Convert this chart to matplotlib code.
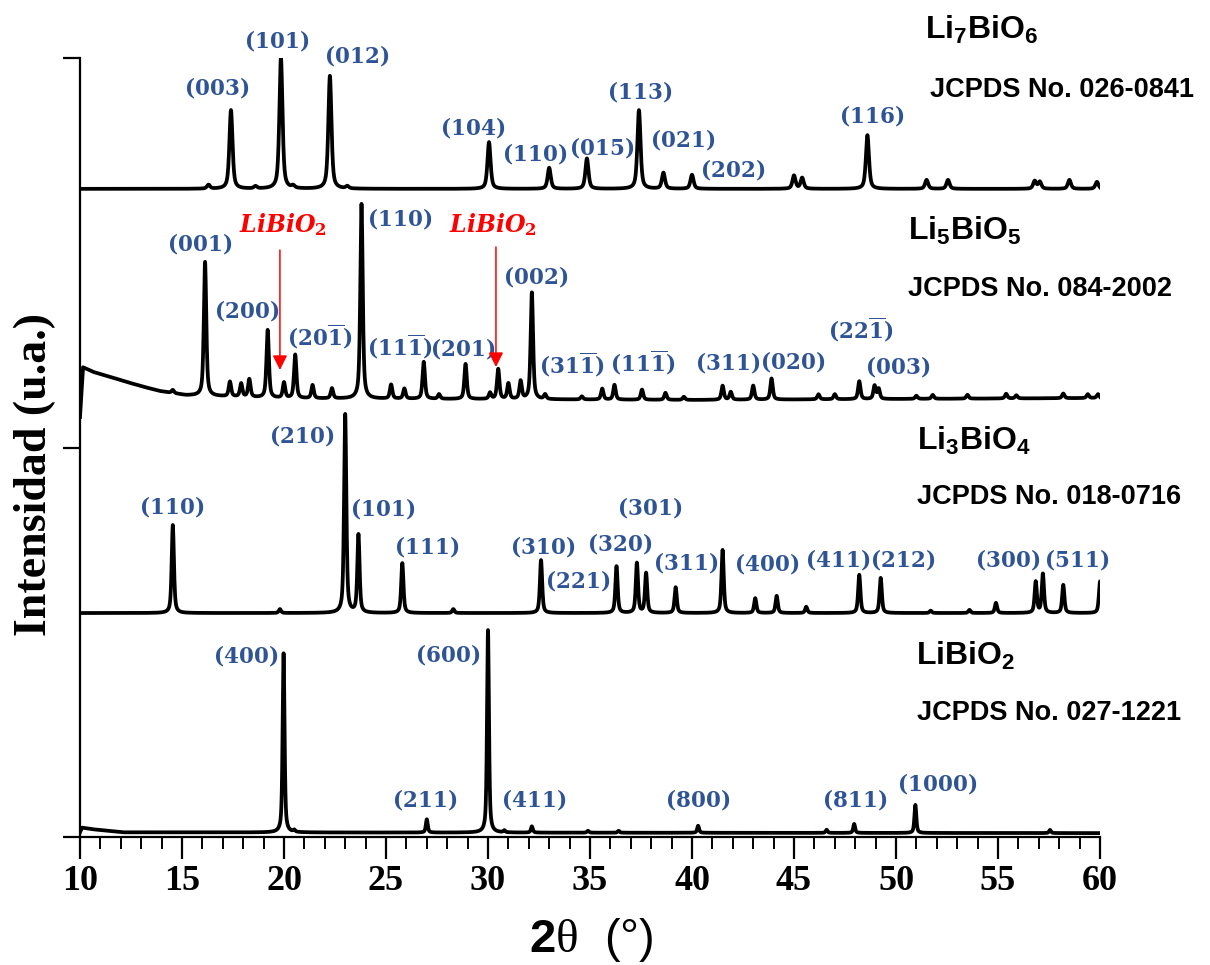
import numpy as np
import matplotlib
matplotlib.use("Agg")
import matplotlib.pyplot as plt
from matplotlib.ticker import MultipleLocator

# ---------------- data ----------------
x_ticks = [10, 15, 20, 25, 30, 35, 40, 45, 50, 55, 60]

# Li7BiO6
li7_base = 83.2
li7_pos = [16.3, 17.4, 18.6, 19.85, 20.45, 22.25, 23.1, 30.05, 33.0, 34.85, 37.4, 38.6, 40.0,
           45.0, 45.4, 48.6, 51.5, 52.55, 56.8, 57.05, 58.5, 59.85]
li7_height = [0.5, 10.1, 0.3, 16.8, 0.3, 14.5, 0.3, 6.0, 2.7, 3.9, 10.1, 2.05, 1.8,
              1.7, 1.4, 6.9, 1.15, 1.15, 1.0, 0.9, 1.15, 0.9]

# Li5BiO5
li5_bg_x = [10.0, 10.15, 10.65, 11.5, 12.3, 13.1, 13.9, 15.2, 20.0, 40.0, 60.0]
li5_bg_y = [53.9, 60.3, 59.7, 59.05, 58.4, 57.8, 57.25, 56.7, 56.3, 56.1, 56.35]
li5_pos = [14.55, 16.13, 17.35, 17.9, 18.3, 19.2, 20.0, 20.55, 21.4, 22.35, 23.8, 25.25, 25.9,
           26.85, 27.6, 28.9, 30.1, 30.5, 31.0, 31.6, 32.15, 32.8, 34.6, 35.6, 36.2, 37.55,
           38.7, 39.6, 41.5, 41.9, 43.0, 43.9, 46.2, 47.0, 48.2, 48.95, 49.15, 51.0, 51.8,
           53.5, 55.4, 55.9, 58.2, 59.4, 59.9]
li5_height = [0.4, 17.2, 1.9, 1.7, 2.3, 8.7, 2.0, 5.6, 1.7, 1.3, 25.0, 1.8, 1.3,
              4.75, 0.6, 4.5, 0.8, 3.85, 2.0, 2.3, 13.7, 0.6, 0.4, 1.4, 1.9, 1.3,
              0.9, 0.4, 1.8, 1.0, 1.8, 2.7, 0.65, 0.65, 2.3, 1.7, 1.3, 0.4, 0.5,
              0.5, 0.6, 0.4, 0.6, 0.5, 0.5]

# Li3BiO4
li3_base = 28.75
li3_pos = [14.55, 19.8, 23.0, 23.65, 25.8, 28.3, 32.6, 36.3, 37.3, 37.75, 39.2, 41.5, 43.1,
           44.15, 45.6, 48.2, 49.25, 51.7, 53.6, 54.9, 56.85, 57.2, 58.2, 60.0]
li3_height = [11.3, 0.5, 25.5, 10.0, 6.4, 0.5, 6.8, 6.0, 6.4, 5.1, 3.3, 8.1, 1.9,
              2.2, 0.8, 4.9, 4.5, 0.3, 0.4, 1.3, 4.0, 5.0, 3.6, 4.0]

# LiBiO2
libi_bg_x = [10.0, 10.1, 10.6, 12.1, 60.0]
libi_bg_y = [0.6, 1.2, 1.0, 0.6, 0.5]
libi_pos = [19.98, 20.5, 27.0, 30.0, 30.8, 32.15, 34.9, 36.4, 40.3, 46.6, 47.95, 50.95, 57.55]
libi_height = [23.0, 0.25, 1.7, 26.0, 0.25, 0.8, 0.25, 0.25, 0.9, 0.4, 1.15, 3.6, 0.4]

# Miller-index labels: (text, 2theta, y)
li7_labels = [("(003)", 16.72, 96.15), ("(101)", 19.66, 102.3), ("(012)", 23.58, 100.26),
              ("(104)", 29.26, 91.14), ("(110)", 32.30, 87.8), ("(015)", 35.59, 88.45),
              ("(113)", 37.45, 95.76), ("(021)", 39.56, 89.6), ("(202)", 42.01, 85.75),
              ("(116)", 48.82, 92.68)]
li5_labels = [("(001)", 15.88, 76.25), ("(200)", 18.19, 67.65), (r"(20\overline{1})", 21.76, 64.18),
              ("(110)", 25.69, 79.46), (r"(11\overline{1})", 25.69, 62.9), ("(201)", 28.77, 62.77),
              ("(002)", 32.35, 71.89), (r"(31\overline{1})", 34.12, 60.6),
              (r"(11\overline{1})", 37.6, 60.85), ("(311)", 41.76, 60.85), ("(020)", 44.95, 60.98),
              (r"(22\overline{1})", 48.24, 65.08), ("(003)", 50.1, 60.46)]
li3_labels = [("(110)", 14.51, 42.49), ("(210)", 20.88, 51.6), ("(101)", 24.85, 42.23),
              ("(111)", 27.01, 37.23), ("(310)", 32.7, 37.23), ("(221)", 34.41, 32.99),
              ("(320)", 36.47, 37.74), ("(301)", 37.94, 42.36), ("(311)", 39.71, 35.3),
              ("(400)", 43.68, 35.17), ("(411)", 47.16, 35.56), ("(212)", 50.34, 35.56),
              ("(300)", 55.49, 35.56), ("(511)", 58.87, 35.56)]
libi_labels = [("(400)", 18.14, 23.36), ("(211)", 26.91, 4.75), ("(600)", 28.04, 23.49),
               ("(411)", 32.25, 4.75), ("(800)", 40.29, 4.75), ("(811)", 47.99, 4.75),
               ("(1000)", 52.01, 6.93)]

# impurity markers (LiBiO2 in Li5BiO5): label position, arrow x, arrow top, arrow tip
impurity_label_x = [19.95, 30.25]
impurity_label_y = [78.56, 78.56]
impurity_arrow_x = [19.8, 30.39]
impurity_arrow_top = [75.35, 75.74]
impurity_arrow_tip = [59.95, 60.33]

# phase names / cards
phase_names = [r"$\mathsf{Li}_{\mathsf{7}}\mathsf{BiO}_{\mathsf{6}}$",
               r"$\mathsf{Li}_{\mathsf{5}}\mathsf{BiO}_{\mathsf{5}}$",
               r"$\mathsf{Li}_{\mathsf{3}}\mathsf{BiO}_{\mathsf{4}}$",
               r"$\mathsf{LiBiO}_{\mathsf{2}}$"]
phase_cards = ["JCPDS No. 026-0841", "JCPDS No. 084-2002", "JCPDS No. 018-0716", "JCPDS No. 027-1221"]
name_x = [51.42, 50.59, 51.03, 50.98]
name_y = [102.4, 76.64, 49.68, 22.08]
card_x = [51.67, 50.59, 51.03, 51.03]
card_y = [95.9, 70.35, 43.65, 15.92]

# ---------------- styling ----------------
plt.rcParams['mathtext.fontset'] = 'custom'
plt.rcParams['mathtext.rm'] = 'DejaVu Serif:bold'
plt.rcParams['mathtext.bf'] = 'DejaVu Serif:bold'
plt.rcParams['mathtext.it'] = 'DejaVu Serif:italic:bold'
plt.rcParams['mathtext.sf'] = 'Liberation Sans:bold'
plt.rcParams['mathtext.cal'] = 'Liberation Serif'

BLUE = '#2F5496'


def pattern(x, pos, height, hwhm, eta=0.6):
    pos = np.asarray(pos)[None, :]
    h = np.asarray(height)[None, :]
    d = (x[:, None] - pos) / hwhm
    prof = eta / (1 + d ** 2) + (1 - eta) * np.exp(-np.log(2) * d ** 2)
    return (prof * h).sum(axis=1)


x = np.linspace(10, 60, 5001)
y_li7 = li7_base + pattern(x, li7_pos, li7_height, 0.09)
y_li5 = np.interp(x, li5_bg_x, li5_bg_y) + pattern(x, li5_pos, li5_height, 0.07)
y_li3 = li3_base + pattern(x, li3_pos, li3_height, 0.065)
y_libi = np.interp(x, libi_bg_x, libi_bg_y) + pattern(x, libi_pos, libi_height, 0.055)

fig = plt.figure(figsize=(12.1, 9.65), dpi=100)
ax = fig.add_axes([80 / 1210, 1 - 837 / 965, 1020 / 1210, 779 / 965])

for yy in (y_li7, y_li5, y_li3, y_libi):
    ax.plot(x, yy, color='black', lw=2.7, solid_joinstyle='round')

ax.set_xlim(10, 60)
ax.set_ylim(0, 100)
ax.set_xticks(x_ticks)
ax.xaxis.set_minor_locator(MultipleLocator(1))
ax.set_yticks([0, 50, 100])
ax.set_yticklabels([])
ax.tick_params(axis='x', which='major', direction='out', length=15.5, width=1.6, pad=5,
               labelsize=26)
ax.tick_params(axis='x', which='minor', direction='out', length=8.5, width=1.4)
ax.tick_params(axis='y', which='major', direction='out', length=12, width=1.6)
for lab in ax.get_xticklabels():
    lab.set_fontfamily('Liberation Serif')
    lab.set_fontweight('bold')
for s in ('top', 'right'):
    ax.spines[s].set_visible(False)
for s in ('left', 'bottom'):
    ax.spines[s].set_linewidth(1.6)

for labels in (li7_labels, li5_labels, li3_labels, libi_labels):
    for txt, lx, ly in labels:
        ax.text(lx, ly, "$" + txt + "$", color=BLUE, fontsize=15.5, ha='center', va='center',
                clip_on=False)

for lx, ly, ax_x, ytop, ytip in zip(impurity_label_x, impurity_label_y, impurity_arrow_x,
                                    impurity_arrow_top, impurity_arrow_tip):
    ax.text(lx, ly, r"$\mathit{LiBiO}_{2}$", color='#FF0000', fontsize=17, ha='center',
            va='center', clip_on=False)
    ax.annotate('', xy=(ax_x, ytip), xytext=(ax_x, ytop),
                arrowprops=dict(arrowstyle='-|>', color='#FF0000', lw=1.1,
                                mutation_scale=22, shrinkA=0, shrinkB=0))

for nm, cd, nx, ny, cx, cy in zip(phase_names, phase_cards, name_x, name_y, card_x, card_y):
    ax.text(nx, ny, nm, fontsize=23, ha='left', va='baseline', clip_on=False)
    ax.text(cx, cy, cd, fontsize=19.5, family='Liberation Sans', weight='bold', ha='left',
            va='center', clip_on=False)

fig.text(35 / 1210, 1 - 475 / 965, "Intensidad (u.a.)", rotation=90, ha='center', va='center',
         fontsize=33, family='Liberation Serif', weight='bold')
fig.text(591 / 1210, 1 - 940 / 965, r"$\mathsf{2}\mathcal{θ}$  (°)", ha='center', va='center',
         fontsize=34, family='Liberation Sans')

fig.savefig('out.png', dpi=100, facecolor='white')
